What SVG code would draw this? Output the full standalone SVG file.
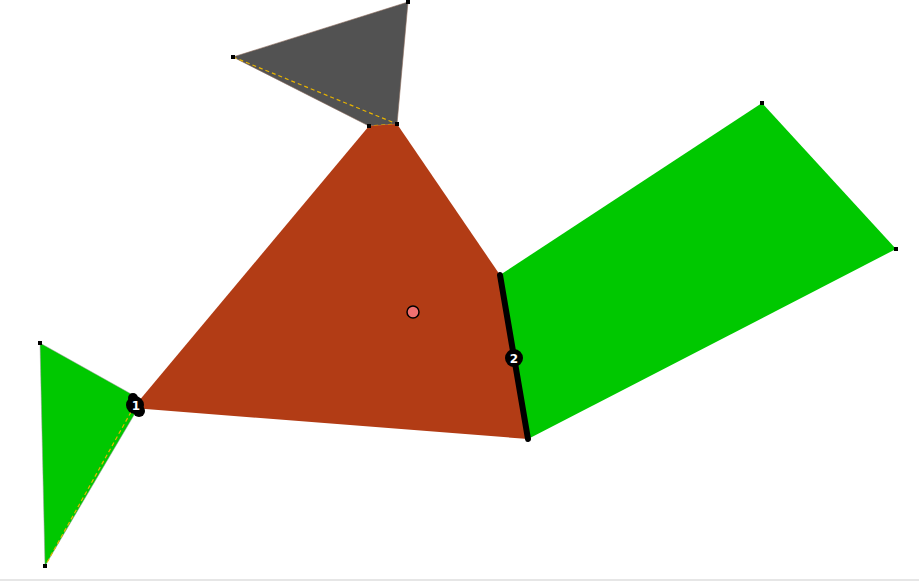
<svg xmlns="http://www.w3.org/2000/svg" width="919" height="586" viewBox="0 0 919 586">
<style>
.v{fill:#000}
.dash{stroke:#e8b400;stroke-width:1.2;stroke-dasharray:4 3;fill:none}
.lbl{font-family:"DejaVu Sans",sans-serif;font-size:12px;font-weight:bold;fill:#fff;text-anchor:middle}
</style>
<rect width="919" height="586" fill="#fff"/>
<line x1="0" y1="580" x2="919" y2="580" stroke="#e6e6e6" stroke-width="2"/>
<g id="gray">
<polygon points="233,57 408,2 397,124 369,126" fill="#525252" stroke="#8a6a5a" stroke-width="0.6"/>
<polyline class="dash" points="233,57 397,124 369,126"/>
</g>
<g id="brown">
<polygon points="369,126 397,124 500,275 528,439 133,408" fill="#b23c15"/>
</g>
<g id="greenLeft">
<polygon points="40,343 133,395 137,410 45,566" fill="#00c800" stroke="#9a9a9a" stroke-width="0.5"/>
<line class="dash" x1="131" y1="412" x2="45" y2="566"/>
</g>
<g id="greenRight">
<polygon points="500,275 762,103 896,249 528,439" fill="#00c800"/>
</g>
<g id="connectors">
<line x1="500" y1="275" x2="528" y2="439" stroke="#000" stroke-width="6" stroke-linecap="round"/>
</g>
<g id="vertices">
<rect class="v" x="231" y="55" width="4" height="4"/>
<rect class="v" x="406" y="0" width="4" height="4"/>
<rect class="v" x="395" y="122" width="4" height="4"/>
<rect class="v" x="367" y="124" width="4" height="4"/>
<rect class="v" x="38" y="341" width="4" height="4"/>
<rect class="v" x="43" y="564" width="4" height="4"/>
<rect class="v" x="760" y="101" width="4" height="4"/>
<rect class="v" x="894" y="247" width="4" height="4"/>
</g>
<g id="label1">
<circle cx="135" cy="405" r="9" fill="#000"/>
<circle cx="139" cy="411" r="6" fill="#000"/>
<circle cx="133" cy="398" r="5" fill="#000"/>
<text class="lbl" x="136" y="410">1</text>
</g>
<g id="label2">
<circle cx="514" cy="358" r="9" fill="#000"/>
<text class="lbl" x="514" y="362.5">2</text>
</g>
<g id="centroid">
<circle cx="413" cy="312" r="6" fill="#f07070" stroke="#000" stroke-width="1.5"/>
</g>
</svg>
